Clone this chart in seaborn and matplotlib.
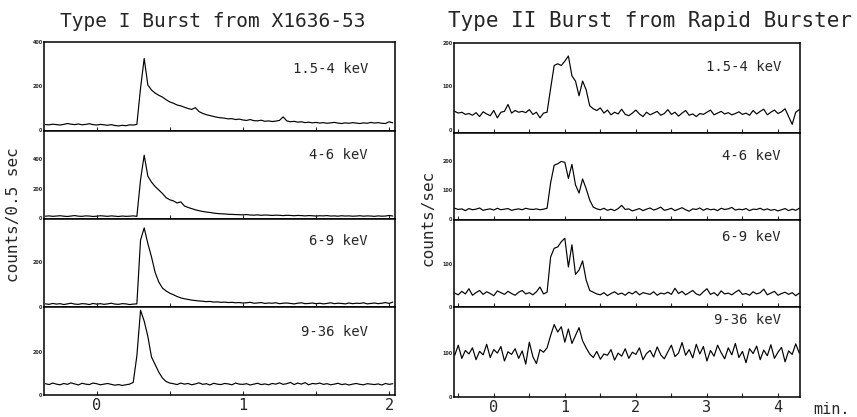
import numpy as np
import matplotlib
matplotlib.use("Agg")
import matplotlib.pyplot as plt
import seaborn as sns
from matplotlib.ticker import MultipleLocator, FixedLocator

sns.set_style("white")
plt.rcParams['font.family'] = ['DejaVu Sans Mono', 'DejaVu Sans']

# ---------------- data ----------------
titles = ["Type I Burst from X1636-53", "Type II Burst from Rapid Burster"]
bands = ["1.5-4 keV", "4-6 keV", "6-9 keV", "9-36 keV"]
ylabels = ["counts/0.5 sec", "counts/sec"]

# Type I burst, time in minutes, 0.025 min bins from -0.35
t_left = np.arange(96) * 0.025 - 0.35
left_1 = [25, 24, 27, 25, 23, 26, 30, 27, 25, 28, 24, 26, 29, 25, 23, 26, 24, 22, 25, 21,
          19, 22, 20, 24, 23, 26, 190, 325, 205, 182, 168, 158, 150, 138, 128, 122, 114, 110,
          104, 98, 94, 102, 84, 76, 70, 66, 62, 58, 56, 54, 51, 52, 48, 50, 46, 44, 48, 43,
          42, 45, 40, 42, 39, 41, 44, 60, 42, 38, 40, 36, 38, 34, 36, 33, 35, 32, 34, 31, 33,
          35, 32, 30, 33, 31, 34, 32, 30, 33, 31, 35, 32, 34, 31, 30, 38, 33]
left_2 = [15, 17, 14, 16, 18, 15, 13, 16, 19, 15, 14, 17, 16, 13, 15, 18, 16, 14, 17, 15,
          13, 16, 14, 15, 17, 14, 260, 427, 285, 245, 215, 192, 168, 140, 126, 118, 104, 112,
          84, 74, 66, 58, 52, 47, 43, 40, 36, 33, 31, 30, 28, 27, 26,
          25, 24, 26, 23, 22, 24, 21, 23, 22, 20, 22, 21, 19, 21, 20, 18, 20, 19, 17, 19,
          18, 16, 18, 17, 19, 16, 17, 15, 18, 16, 17, 15, 16, 18, 15, 17, 16, 14, 17, 15,
          16, 20, 16]
left_3 = [14, 12, 16, 13, 15, 11, 14, 17, 13, 12, 15, 14, 11, 16, 13, 15, 12, 14, 17, 13,
          12, 15, 14, 11, 13, 14, 300, 355, 285, 225, 155, 112, 85, 72, 62, 55, 47, 41, 37,
          34, 31, 29, 27,
          26, 24, 25, 22, 23, 21, 22, 20, 21, 19, 20, 18, 19, 21, 17, 18, 20, 16, 18, 17,
          19, 15, 17, 18, 16, 14, 17, 19, 15, 16, 18, 15, 17, 14, 16, 19, 15, 17, 16, 14,
          18, 15, 17, 16, 19, 14, 16, 18, 15, 17, 20, 16, 22]
left_4 = [52, 48, 55, 50, 47, 53, 49, 56, 51, 46, 54, 50, 48, 55, 52, 47, 50, 53, 49, 45,
          48, 44, 47, 50, 58, 180, 390, 340, 270, 175, 140, 105, 78, 62, 55,
          52, 48, 55, 50, 53, 47, 51, 56, 49, 52, 46, 54, 50, 48, 53, 51, 47, 55, 50, 49,
          52, 46, 50, 54, 48, 51, 47, 53, 50, 56, 49, 52, 58, 48, 55, 50, 57, 47, 53, 51,
          55, 49, 52, 47, 50, 54, 48, 51, 46, 50, 53, 49, 47, 52, 50, 48, 51, 46, 53, 49, 52]

# Type II burst, time in minutes, 0.05 min bins from -0.55
t_right = np.arange(98) * 0.05 - 0.55
right_1 = [42, 38, 40, 35, 37, 33, 39, 30, 41, 36, 32, 44, 27, 40, 42, 58, 38, 44, 40, 42,
           39, 46, 35, 40, 27, 38, 40, 95, 148, 152, 148, 158, 170, 124, 112, 78, 112, 92,
           55, 48, 44, 50, 38, 45, 34, 40, 36, 47, 35, 32, 38, 45, 36, 30, 40, 34, 38, 42,
           33, 37, 46, 35, 40, 31, 38, 44, 33, 36, 30, 37, 35, 40, 45, 34, 38, 42, 36, 39,
           34, 37, 41, 35, 38, 33, 44, 36, 42, 47, 34, 40, 45, 37, 41, 48, 30, 12, 40, 46]
right_2 = [38, 34, 36, 30, 37, 33, 35, 39, 31, 34, 36, 32, 38, 33, 35, 37, 31, 34, 36, 33,
           38, 35, 34, 36, 33, 35, 38, 125, 185, 190, 198, 195, 140, 188, 118, 90, 138, 105,
           66, 42, 36,
           33, 38, 31, 35, 30, 37, 48, 34, 36, 29, 33, 37, 30, 35, 39, 32, 36, 42, 31, 34,
           38, 30, 35, 40, 33, 28, 36, 34, 39, 31, 37, 33, 35, 30, 38, 34, 36, 41, 32, 35,
           33, 37, 30, 35, 34, 38, 32, 36, 31, 34, 29, 33, 37, 30, 35, 31, 38]
right_3 = [32, 28, 36, 30, 42, 27, 33, 38, 29, 35, 31, 26, 37, 33, 29, 36, 31, 27, 34, 38,
           30, 33, 28, 35, 46, 30, 34, 115, 135, 138, 150, 158, 92, 143, 75, 85, 106, 62, 38,
           34, 30, 28, 33, 26, 31, 35, 29, 32, 27, 34, 30, 36, 28, 33, 31, 29, 35, 27, 32,
           30, 34, 29, 43, 31, 36, 28, 33, 38, 30, 27, 35, 42, 29, 33, 26, 37, 30, 32, 28,
           34, 39, 29, 31, 27, 35, 30, 33, 41, 28, 32, 36, 27, 31, 34, 29, 33, 26, 32]
right_4 = [95, 118, 88, 106, 98, 112, 85, 104, 96, 120, 90, 108, 100, 115, 82, 103, 97, 110,
           88, 105, 75, 125, 92, 76, 108, 102, 112, 140, 165, 148, 160, 125, 155, 122, 140,
           158, 128, 112, 98,
           90, 104, 86, 98, 95, 108, 84, 100, 93, 110, 88, 102, 97, 112, 85, 99, 106, 91,
           114, 96, 87, 103, 118, 92, 100, 124, 95, 108, 89, 120, 98, 115, 82, 106, 93, 118,
           101, 87, 112, 96, 122, 90, 104, 78, 110, 99, 116, 85, 107, 94, 119, 88, 102, 113,
           80, 105, 97, 121, 100]

left_series = [left_1, left_2, left_3, left_4]
right_series = [right_1, right_2, right_3, right_4]
left_ylims = [(-4, 400), (-4, 590), (0, 395), (0, 405)]
right_ylims = [(-8, 200), (-2, 295), (0, 200), (0, 205)]
left_yticks = [[0, 200, 400], [0, 200, 400], [0, 200], [0, 200]]
right_yticks = [[0, 100, 200], [0, 100, 200], [0, 100], [0, 100]]
left_label_y = [0.70, 0.73, 0.75, 0.72]
right_label_y = [0.73, 0.74, 0.81, 0.85]

# ---------------- figure ----------------
W, H = 857, 417
fig = plt.figure(figsize=(W / 100, H / 100), dpi=100)

def fx(px):
    return px / W

def fy(py):
    return 1 - py / H

left_edges = [(42, 131), (131, 219), (219, 307), (307, 395)]
right_edges = [(43, 133), (133, 220), (220, 307), (307, 397)]

def make_panel(x0, x1, y0, y1):
    return fig.add_axes([fx(x0), fy(y1), fx(x1) - fx(x0), fy(y0) - fy(y1)])

def style(ax, xlim, ylim, yticks, major, minor, show_x):
    ax.set_xlim(*xlim)
    ax.set_ylim(*ylim)
    for s in ax.spines.values():
        s.set_visible(True)
        s.set_color("black")
        s.set_linewidth(1.1)
    ax.yaxis.set_major_locator(FixedLocator(yticks))
    ax.set_yticklabels([str(v) for v in yticks], fontsize=3.5, fontweight="bold",
                       family="DejaVu Sans")
    ax.tick_params(axis="y", direction="in", length=1.5, width=0.6, pad=1)
    ax.xaxis.set_major_locator(MultipleLocator(major))
    if minor:
        ax.xaxis.set_minor_locator(MultipleLocator(minor))
    ax.tick_params(axis="x", which="both", direction="in", length=3, width=0.8,
                   bottom=True, top=False, labelbottom=show_x, labelsize=11, pad=2)
    ax.set_xlabel("")
    ax.set_ylabel("")

for i in range(4):
    ax = make_panel(44, 395, *left_edges[i])
    sns.lineplot(x=t_left, y=left_series[i], ax=ax, color="black", linewidth=0.85,
                 estimator=None)
    style(ax, (-0.36, 2.04), left_ylims[i], left_yticks[i], 1, 0.5, i == 3)
    ax.text(0.923, left_label_y[i], bands[i], transform=ax.transAxes, ha="right",
            va="center", fontsize=10)

for i in range(4):
    ax = make_panel(454, 800, *right_edges[i])
    sns.lineplot(x=t_right, y=right_series[i], ax=ax, color="black", linewidth=0.85,
                 estimator=None)
    style(ax, (-0.56, 4.31), right_ylims[i], right_yticks[i], 1, 0.5, i == 3)
    ax.text(0.945, right_label_y[i], bands[i], transform=ax.transAxes, ha="right",
            va="center", fontsize=10)

fig.text(fx(213), fy(27), titles[0], ha="center", va="baseline", fontsize=14)
fig.text(fx(650), fy(27), titles[1], ha="center", va="baseline", fontsize=15)
fig.text(fx(14), fy(215), ylabels[0], rotation=90, ha="center", va="center", fontsize=11.5)
fig.text(fx(428), fy(218), ylabels[1], rotation=90, ha="center", va="center", fontsize=11.5)
fig.text(fx(813), fy(414), "min.", ha="left", va="baseline", fontsize=11)

fig.savefig("out.png", dpi=100)
